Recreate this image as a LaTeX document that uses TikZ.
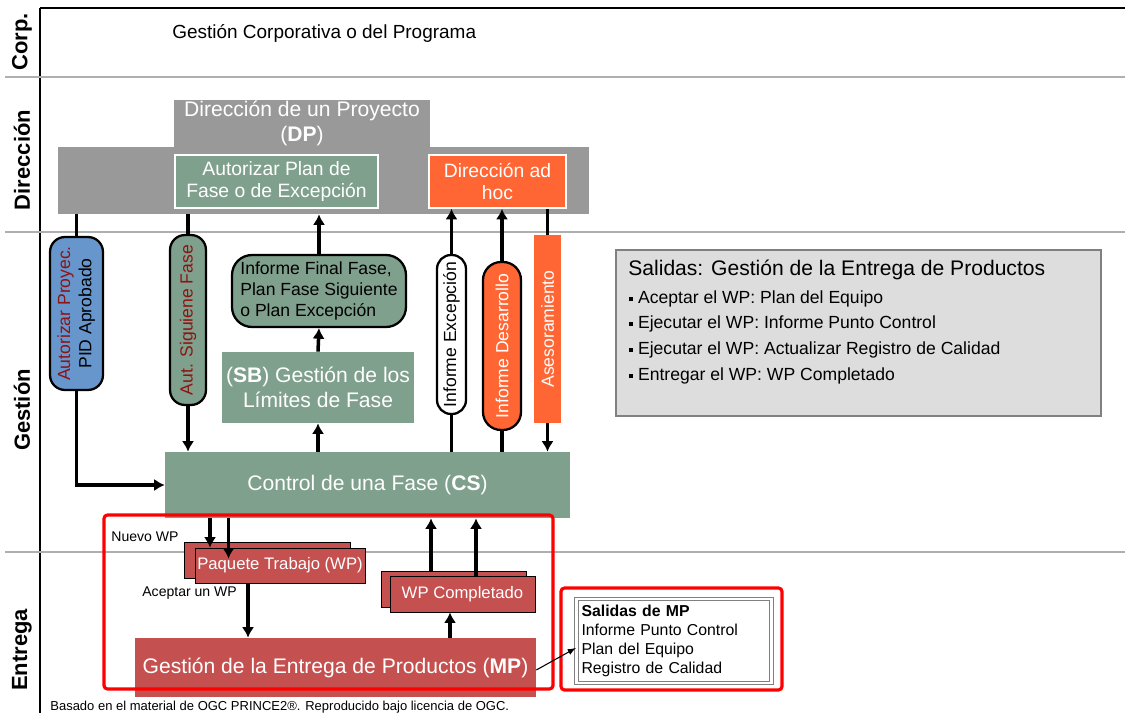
\documentclass[tikz,border=0pt]{standalone}
\usepackage{fontspec}
\setmainfont{Liberation Sans}
\usepackage{graphicx}
\usetikzlibrary{arrows.meta}

\definecolor{dpgray}{RGB}{153,153,153}
\definecolor{csgreen}{RGB}{127,160,140}
\definecolor{adorange}{RGB}{255,102,51}
\definecolor{pidblue}{RGB}{102,150,204}
\definecolor{wpred}{RGB}{197,80,80}
\definecolor{txtred}{RGB}{140,20,20}
\definecolor{outgray}{RGB}{221,221,221}
\definecolor{lanegray}{RGB}{175,175,175}

\newcommand{\bigtxt}{\fontsize{12}{14}\selectfont}
\newcommand{\midtxt}{\fontsize{11}{12.5}\selectfont}
\newcommand{\boxtxt}{\fontsize{10}{12}\selectfont}
\newcommand{\tinytxt}{\fontsize{8}{9}\selectfont}
\newcommand{\sqb}{\raisebox{0.25ex}{\rule{2.2pt}{2.6pt}}}

\tikzset{
    lane/.style={lanegray,line width=0.8pt},
    lanelbl/.style={rotate=90,font=\fontsize{12.5}{14}\selectfont\bfseries},
    dpfill/.style={fill=dpgray,inner sep=0pt,align=center},
    procbox/.style={fill=csgreen,text=white,inner sep=0pt,align=center},
    pill/.style={draw=black,line width=1.3pt,rounded corners=0.3cm,inner sep=1pt,font=\boxtxt},
    wpbox/.style={fill=wpred,draw=black,line width=0.5pt,text=white,inner sep=0pt,font=\fontsize{9.5}{11}\selectfont},
    arr/.style={line width=2pt,-{Latex[length=6pt,width=7pt]}},
    link/.style={line width=2pt},
    redframe/.style={red,line width=1.8pt,rounded corners=2pt}
}

\begin{document}
\begin{tikzpicture}[x=0.02cm,y=-0.02cm]
                            \useasboundingbox (0,0) rectangle (1125,713);

                            % Lanes
                            \draw[line width=1.2pt] (40,8) -- (1125,8);
                            \draw[line width=1.4pt] (40,8) -- (40,713);
                            \draw[lane] (5,77) -- (1125,77);
                            \draw[lane] (5,232) -- (1125,232);
                            \draw[lane] (5,552) -- (1125,552);
                            \node[lanelbl] (corp) at (22,42) {Corp.};
                            \node[lanelbl] (dir) at (22,160) {Dirección};
                            \node[lanelbl] (gest) at (22,410) {Gestión};
                            \node[lanelbl] (entr) at (22,650) {Entrega};
                            \node[anchor=west,inner sep=0pt,font=\fontsize{10.8}{12}\selectfont] (corptxt) at (172,33) {Gestión Corporativa o del Programa};

                            % Direction
                            \node[dpfill,minimum width=10.62cm,minimum height=1.34cm] (dpbase) at (323.5,180.5) {};
                            \node[dpfill,minimum width=5.12cm,minimum height=0.94cm,text=white,font=\bigtxt] (dptop) at (302,123.5) {Dirección de un Proyecto\\(\textbf{DP})};
                            \node[procbox,draw=white,line width=1pt,minimum width=4.06cm,minimum height=1.06cm,font=\midtxt] (autplan) at (276.5,181.5) {Autorizar Plan de\\Fase o de Excepción};
                            \node[procbox,fill=adorange,draw=white,line width=1pt,minimum width=2.74cm,minimum height=1.06cm,font=\midtxt] (adhoc) at (497.5,181.5) {Dirección ad\\hoc};

                            % Management
                            \node[pill,fill=pidblue,minimum width=1.06cm,minimum height=3.06cm] (pid) at (76.5,313.5) {\rotatebox{90}{\begin{tabular}{@{}c@{}}\textcolor{txtred}{Autorizar Proyec.}\\PID Aprobado\end{tabular}}};
                            \node[pill,fill=csgreen,text=txtred,minimum width=0.72cm,minimum height=3.4cm] (asf) at (188,320) {\rotatebox{90}{Aut. Siguiene Fase}};
                            \node[pill,fill=csgreen,rounded corners=0.4cm,minimum width=3.48cm,minimum height=1.44cm,align=left,inner sep=2pt] (ifin) at (319,291) {Informe Final Fase,\\Plan Fase Siguiente\\o Plan Excepción};
                            \node[procbox,minimum width=3.84cm,minimum height=1.42cm,font=\bigtxt] (sb) at (318,387.5) {(\textbf{SB}) Gestión de los\\Límites de Fase};
                            \node[pill,fill=white,rounded corners=0.28cm,minimum width=0.58cm,minimum height=3.18cm] (iexc) at (451.5,334.5) {\rotatebox{90}{Informe Excepción}};
                            \node[pill,fill=adorange,text=white,rounded corners=0.36cm,minimum width=0.76cm,minimum height=3.36cm] (ides) at (502,346) {\rotatebox{90}{Informe Desarrollo}};
                            \node[fill=adorange,text=white,inner sep=1pt,font=\boxtxt,minimum width=0.54cm,minimum height=3.76cm] (ases) at (547.5,329) {\rotatebox{90}{Asesoramiento}};
                            \node[procbox,minimum width=8.1cm,minimum height=1.32cm,font=\bigtxt] (cs) at (367.5,485) {Control de una Fase (\textbf{CS})};

                            % Outputs
                            \node[draw=gray,line width=1.2pt,fill=outgray,minimum width=9.7cm,minimum height=3.32cm] (salidas) at (858.5,333) {};
                            \node[anchor=west,inner sep=0pt,font=\bigtxt] (saltit) at (628,270) {Salidas: Gestión de la Entrega de Productos};
                            \node[anchor=west,inner sep=0pt,font=\boxtxt] (sal1) at (629,299) {\sqb\ Aceptar el WP: Plan del Equipo};
                            \node[anchor=west,inner sep=0pt,font=\boxtxt] (sal2) at (629,324) {\sqb\ Ejecutar el WP: Informe Punto Control};
                            \node[anchor=west,inner sep=0pt,font=\boxtxt] (sal3) at (629,350) {\sqb\ Ejecutar el WP: Actualizar Registro de Calidad};
                            \node[anchor=west,inner sep=0pt,font=\boxtxt] (sal4) at (629,376) {\sqb\ Entregar el WP: WP Completado};

                            % Delivery
                            \node[wpbox,minimum width=3.32cm,minimum height=0.72cm] (wpback) at (267,560) {};
                            \node[wpbox,minimum width=3.4cm,minimum height=0.7cm] (wp) at (280,565.5) {Paquete Trabajo (WP)};
                            \node[wpbox,minimum width=2.9cm,minimum height=0.72cm] (wpcback) at (453.5,589) {};
                            \node[wpbox,minimum width=2.9cm,minimum height=0.72cm] (wpc) at (462.5,594) {WP Completado};
                            \node[fill=wpred,text=white,inner sep=0pt,font=\fontsize{12}{14}\selectfont,minimum width=8.02cm,minimum height=1.18cm] (mp) at (335.5,667.5) {Gestión de la Entrega de Productos (\textbf{MP})};
                            \node[anchor=west,font=\tinytxt,inner sep=0pt] (nuevo) at (111,537) {Nuevo WP};
                            \node[anchor=west,font=\tinytxt,inner sep=0pt] (acept) at (142,593) {Aceptar un WP};
                            \node[draw=gray,line width=0.8pt,double=white,double distance=1.2pt,fill=white,text width=3.7cm,inner sep=0.1cm,minimum height=1.68cm,align=left,font=\fontsize{9}{10.8}\selectfont] (mpout) at (674,641) {\textbf{Salidas de MP}\\Informe Punto Control\\Plan del Equipo\\Registro de Calidad};

                            % Frames
                            \draw[redframe] (104,515) rectangle (553,689);
                            \draw[redframe] (561,588) rectangle (782,690);

                            % Flows
                            \draw[link] (dpbase.south -| pid.north) -- (pid.north);
                            \draw[arr] (pid.south) |- (cs.west);
                            \draw[link] (dpbase.south -| asf.north) -- (asf.north);
                            \draw[arr] (asf.south) -- (cs.north -| asf.south);
                            \draw[arr] (ifin.north) -- (ifin.north |- dpbase.south);
                            \draw[arr] (sb.north) -- (ifin.south);
                            \draw[arr] (cs.north -| sb.south) -- (sb.south);
                            \draw[link] (cs.north -| iexc.south) -- (iexc.south);
                            \draw[arr] (iexc.north) -- (iexc.north |- adhoc.south);
                            \draw[link] (cs.north -| ides.south) -- (ides.south);
                            \draw[arr] (ides.north) -- (ides.north |- adhoc.south);
                            \draw[link] (adhoc.south -| ases.north) -- (ases.north);
                            \draw[arr] (ases.south) -- (cs.north -| ases.south);
                            \draw[arr] ([xshift=-1.4cm]wp.north |- cs.south) -- ([xshift=-1.4cm]wp.north);
                            \draw[arr] ([xshift=-1.03cm]wp.north |- cs.south) -- ([xshift=-1.03cm,yshift=-0.22cm]wp.north);
                            \draw[arr] ([xshift=-0.64cm]wp.south) -- ([xshift=-0.64cm]wp.south |- mp.north);
                            \draw[arr] ([xshift=-0.45cm]wpcback.north) -- ([xshift=-0.45cm]wpcback.north |- cs.south);
                            \draw[arr] ([xshift=0.27cm]wpc.north) -- ([xshift=0.27cm]wpc.north |- cs.south);
                            \draw[arr] ([xshift=-0.25cm]wpc.south |- mp.north) -- ([xshift=-0.25cm]wpc.south);
                            \draw[line width=0.6pt,-latex] ([yshift=-0.05cm]mp.east) -- ([yshift=-0.14cm]mpout.west);

                            % Source
                            \node[anchor=west,inner sep=0pt,font=\fontsize{7.4}{8}\selectfont] (foot) at (50,707) {Basado en el material de OGC PRINCE2®. Reproducido bajo licencia de OGC.};
                      \end{tikzpicture}
\end{document}
